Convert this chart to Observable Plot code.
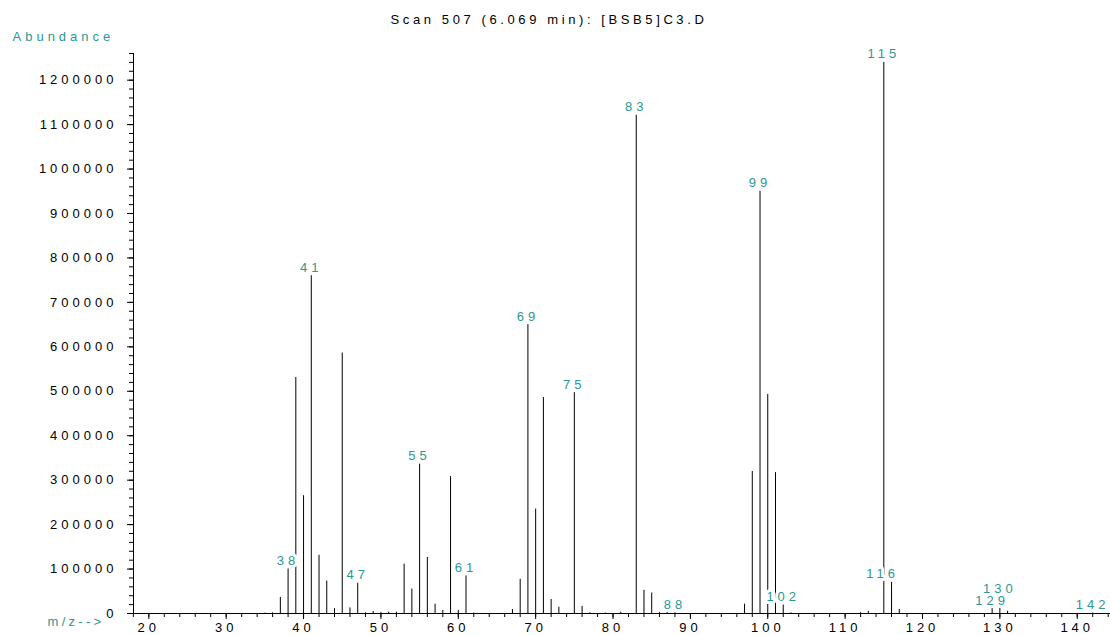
<!DOCTYPE html>
<html><head><meta charset="utf-8">
<script src="https://cdn.jsdelivr.net/npm/d3@7"></script>
<script src="https://cdn.jsdelivr.net/npm/@observablehq/plot@0.6"></script>
<style>
body{margin:0;background:#fff;}
#chart svg{display:block;}
#chart svg text{letter-spacing:4px;}
#chart svg g.ttl text{letter-spacing:3.6px;}
#chart svg g.xt text{letter-spacing:3.3px;}
</style></head><body><div id="chart"></div>
<script>
const title = "Scan 507 (6.069 min): [BSB5]C3.D";
const yTitle = "Abundance";
const xTitle = "m/z-->";

const mz = [35,36,37,38,39,40,41,42,43,44,45,46,47,48,49,50,51,52,53,54,55,56,57,58,59,60,61,62,
  67,68,69,70,71,72,73,75,76,77,79,81,83,84,85,86,87,88,97,98,99,100,101,102,103,112,113,115,116,117,129,130,131,142];
const abundance = [1000,1500,36000,100000,531000,265000,760000,131000,73000,11000,586000,12600,68000,1500,4500,2500,3000,3000,
  111000,55000,336000,126000,21000,6800,308000,7000,84600,1000,
  9000,77000,650000,235000,486000,31500,14000,497000,16000,1500,1000,3000,1121000,52000,46000,2000,3000,1500,
  21000,319500,950000,493000,317000,19000,1500,2000,5000,1240000,70000,9000,11000,12600,5000,1000];

const labelMz = [38,41,47,55,61,69,75,83,88,99,102,115,129,142];
const shiftedLabelMz = [116];
const raisedLabelMz = [130];

const xMajorTicks = d3.range(20, 141, 10);
const xMinorTicks = d3.range(18, 145, 2);
const yMajorTicks = d3.range(0, 1200001, 100000);
const yMinorTicks = d3.range(0, 1260001, 20000);

const peaks = mz.map((m, i) => ({mz: m, abundance: abundance[i]}));
const lookup = new Map(peaks.map(d => [d.mz, d.abundance]));
const mk = arr => arr.map(m => ({mz: m, abundance: lookup.get(m), text: String(m)}));
const labels = mk(labelMz);
const shiftedLabels = mk(shiftedLabelMz);
const raisedLabels = mk(raisedLabelMz);

const teal = "#2a9894";
const font = "'Liberation Sans', Arial, sans-serif";
const labelOpts = {x: "mz", y: "abundance", text: "text", fill: teal, stroke: "white", strokeWidth: 6, paintOrder: "stroke", lineAnchor: "bottom", fontSize: 13};

const chart = Plot.plot({
  width: 1110,
  height: 635,
  marginLeft: 133,
  marginRight: 0,
  marginTop: 53,
  marginBottom: 22,
  style: {fontFamily: font, fontSize: "13px", background: "white", overflow: "visible"},
  x: {domain: [18.02, 144.3], axis: null},
  y: {domain: [0, 1260000], axis: null},
  marks: [
    Plot.ruleX(peaks, {x: "mz", y: "abundance", stroke: "black", strokeWidth: 1}),
    Plot.ruleY([0], {stroke: "black", insetLeft: -6}),
    Plot.frame({anchor: "left", stroke: "black"}),
    Plot.axisY({ticks: yMinorTicks, tickSize: 4, tickFormat: () => "", label: null}),
    Plot.axisY({ticks: yMajorTicks, tickSize: 6, tickPadding: 10, tickFormat: d3.format("d"), label: null, fill: "black", fontSize: 13}),
    Plot.axisX({ticks: xMinorTicks, tickSize: 4, tickFormat: () => "", label: null}),
    Plot.axisX({ticks: xMajorTicks, tickSize: 6, tickPadding: 3, tickFormat: d3.format("d"), label: null, fill: "black", fontSize: 13}),
    Plot.text(labels, {...labelOpts, dy: -4}),
    Plot.text(shiftedLabels, {...labelOpts, dy: -4, dx: -9}),
    Plot.text(raisedLabels, {...labelOpts, dy: -15}),
    Plot.text([title], {frameAnchor: "top", text: d => d, dx: -73, dy: -39, fill: "black", fontSize: 13}),
    Plot.text([yTitle], {frameAnchor: "top-left", text: d => d, textAnchor: "start", dx: -121, dy: -22, fill: teal, fontSize: 13}),
    Plot.text([xTitle], {frameAnchor: "bottom-left", text: d => d, textAnchor: "start", dx: -86, dy: 12, fill: teal, fontSize: 13})
  ]
});
chart.querySelectorAll('g[aria-label="text"]').forEach(g => {
  const t = g.textContent;
  if (t === title) g.classList.add("ttl");
  if (t === xTitle) g.classList.add("xt");
});
document.getElementById("chart").appendChild(chart);
</script>
</body></html>
